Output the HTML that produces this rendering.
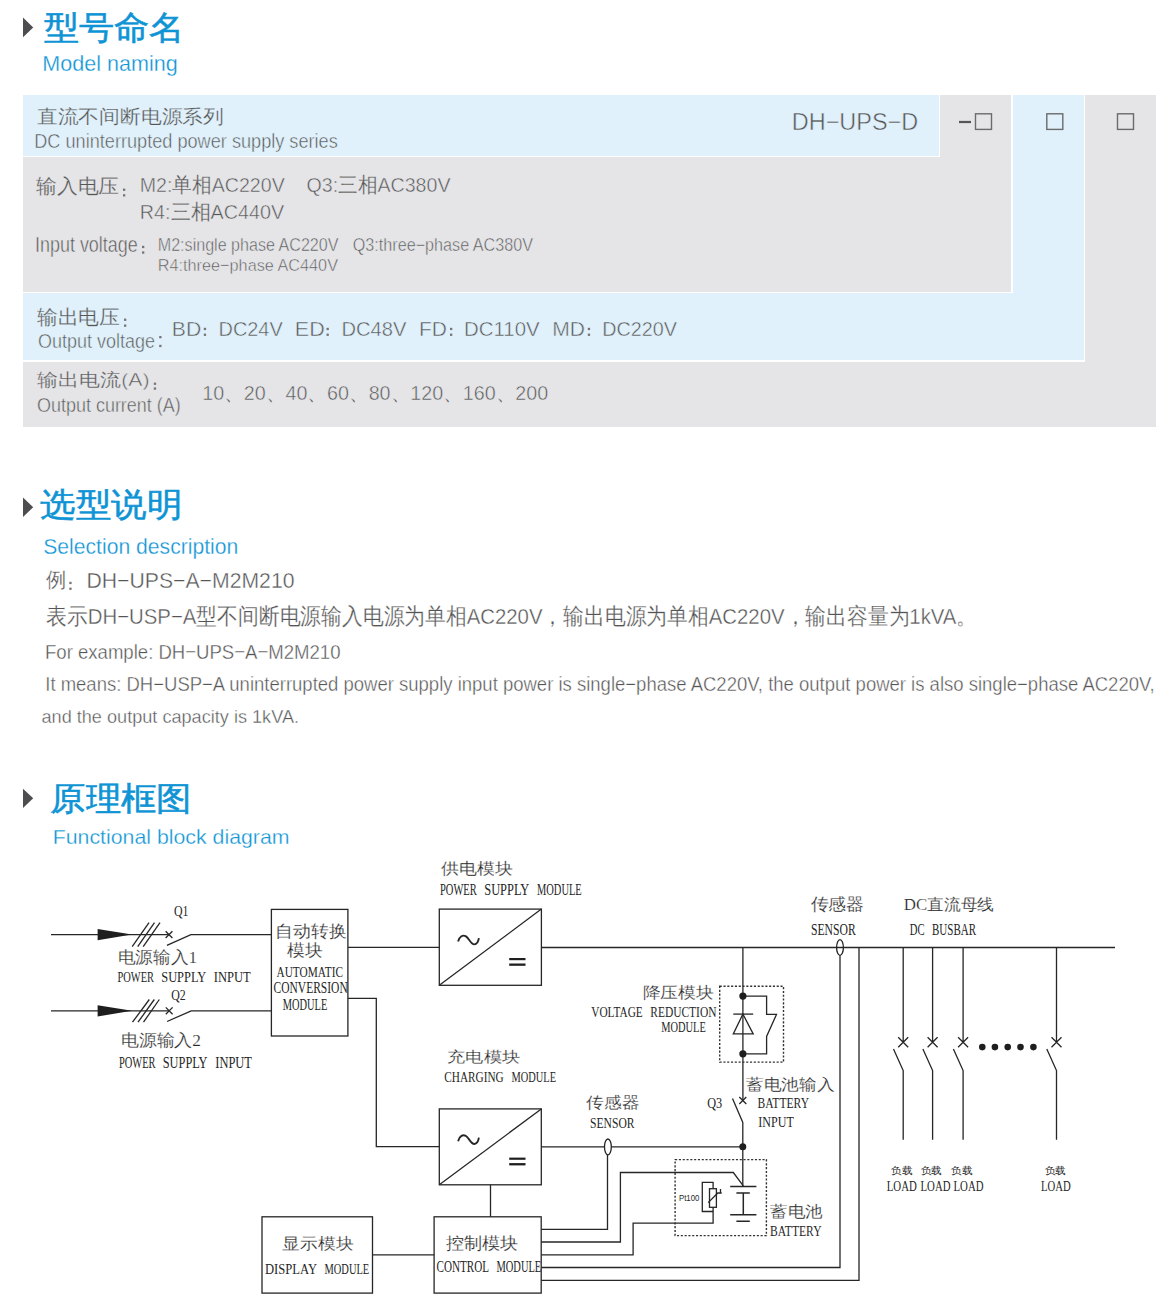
<!DOCTYPE html>
<html lang="zh"><head><meta charset="utf-8"><title>DH-UPS-D</title>
<style>
html,body{margin:0;padding:0;background:#fff;}
body{width:1167px;height:1308px;position:relative;overflow:hidden;font-family:"Liberation Sans",sans-serif;}
.cell{position:absolute;}
.b{background:#e0f1fb;}
.g{background:#e5e5e8;}
svg{position:absolute;left:0;top:0;}
</style></head><body>

<div class="section model-naming">
<div class="cell b" style="left:23px;top:95px;width:916px;height:61px"></div>
<div class="cell g" style="left:940px;top:95px;width:71px;height:197px"></div>
<div class="cell g" style="left:23px;top:157px;width:988px;height:135px"></div>
<div class="cell b" style="left:1013px;top:95px;width:71px;height:265px"></div>
<div class="cell b" style="left:23px;top:293px;width:1061px;height:67px"></div>
<div class="cell g" style="left:1085px;top:95px;width:71px;height:332px"></div>
<div class="cell g" style="left:23px;top:362px;width:1133px;height:65px"></div>
</div>
<svg width="1167" height="1308" viewBox="0 0 1167 1308">
<g fill="#4d4d4f">
<polygon points="23,17.5 33.2,27.4 23,37.2"/>
<polygon points="23,497.5 33.2,507.2 23,517.0"/>
<polygon points="23,788.7 33.2,798.3 23,807.9"/>
</g>
<g fill="none" stroke="#6b6b6b" stroke-width="1.4">
<rect x="975.5" y="113.8" width="16" height="15.6"/>
<rect x="1046.8" y="113.8" width="16" height="15.6"/>
<rect x="1117.5" y="113.8" width="16" height="15.6"/>
</g>
<rect x="959" y="120.9" width="12" height="2.2" fill="#555"/>
<g fill="#767676">
<rect x="123.0" y="188.6" width="2.3" height="2.3"/><rect x="123.0" y="194.2" width="2.3" height="2.3"/>
<rect x="124.0" y="318.6" width="2.3" height="2.3"/><rect x="124.0" y="324.5" width="2.3" height="2.3"/>
<rect x="153.8" y="382.6" width="2.3" height="2.3"/><rect x="153.8" y="387.4" width="2.3" height="2.3"/>
<rect x="203.8" y="327.8" width="2.3" height="2.3"/><rect x="203.8" y="333.6" width="2.3" height="2.3"/>
<rect x="326.5" y="327.8" width="2.3" height="2.3"/><rect x="326.5" y="333.6" width="2.3" height="2.3"/>
<rect x="450.0" y="327.8" width="2.3" height="2.3"/><rect x="450.0" y="333.6" width="2.3" height="2.3"/>
<rect x="587.8" y="327.8" width="2.3" height="2.3"/><rect x="587.8" y="333.6" width="2.3" height="2.3"/>
<rect x="142.0" y="245.8" width="2.3" height="2.3"/><rect x="142.0" y="251.4" width="2.3" height="2.3"/>
<rect x="159.2" y="336.0" width="2.3" height="2.3"/><rect x="159.2" y="344.8" width="2.3" height="2.3"/>
<rect x="69.3" y="581.8" width="2.3" height="2.3"/><rect x="69.3" y="587.6" width="2.3" height="2.3"/>
</g>
<text x="43.50" y="38.82" font-family="Liberation Sans" font-size="33.22" textLength="140.75" lengthAdjust="spacingAndGlyphs" fill="#0e94d5" stroke="#0e94d5" stroke-width="0.55">型号命名</text>
<text x="42.25" y="71.10" font-family="Liberation Sans" font-size="22.82" textLength="135.50" lengthAdjust="spacingAndGlyphs" fill="#0e94d5" stroke="#fff" stroke-width="0.3">Model naming</text>
<text x="36.75" y="123.38" font-family="Liberation Sans" font-size="19.39" textLength="187.25" lengthAdjust="spacingAndGlyphs" fill="#555" stroke="#e0f1fb" stroke-width="0.5"><tspan stroke-width="0.25">直流不间断电源系列</tspan></text>
<text x="34.25" y="148.40" font-family="Liberation Sans" font-size="20.49" textLength="303.50" lengthAdjust="spacingAndGlyphs" fill="#555" stroke="#e0f1fb" stroke-width="0.5">DC uninterrupted power supply series</text>
<text x="791.75" y="129.90" font-family="Liberation Sans" font-size="23.98" textLength="126.50" lengthAdjust="spacingAndGlyphs" fill="#555" stroke="#e0f1fb" stroke-width="0.5">DH−UPS−D</text>
<text x="35.75" y="192.81" font-family="Liberation Sans" font-size="19.65" textLength="83.50" lengthAdjust="spacingAndGlyphs" fill="#555" stroke="#e5e5e8" stroke-width="0.5"><tspan stroke-width="0.25">输入电压</tspan></text>
<text x="139.75" y="192.10" font-family="Liberation Sans" font-size="20.93" textLength="145.00" lengthAdjust="spacingAndGlyphs" fill="#555" stroke="#e5e5e8" stroke-width="0.5">M2:<tspan stroke-width="0.25">单相</tspan>AC220V</text>
<text x="306.50" y="192.10" font-family="Liberation Sans" font-size="20.93" textLength="144.00" lengthAdjust="spacingAndGlyphs" fill="#555" stroke="#e5e5e8" stroke-width="0.5">Q3:<tspan stroke-width="0.25">三相</tspan>AC380V</text>
<text x="139.75" y="219.00" font-family="Liberation Sans" font-size="20.78" textLength="144.50" lengthAdjust="spacingAndGlyphs" fill="#555" stroke="#e5e5e8" stroke-width="0.5">R4:<tspan stroke-width="0.25">三相</tspan>AC440V</text>
<text x="35.00" y="251.70" font-family="Liberation Sans" font-size="21.51" textLength="102.75" lengthAdjust="spacingAndGlyphs" fill="#555" stroke="#e5e5e8" stroke-width="0.5">Input voltage</text>
<text x="157.75" y="251.40" font-family="Liberation Sans" font-size="17.88" textLength="180.75" lengthAdjust="spacingAndGlyphs" fill="#555" stroke="#e5e5e8" stroke-width="0.5">M2:single phase AC220V</text>
<text x="352.75" y="251.40" font-family="Liberation Sans" font-size="17.88" textLength="180.25" lengthAdjust="spacingAndGlyphs" fill="#555" stroke="#e5e5e8" stroke-width="0.5">Q3:three−phase AC380V</text>
<text x="157.75" y="270.80" font-family="Liberation Sans" font-size="16.86" textLength="180.25" lengthAdjust="spacingAndGlyphs" fill="#555" stroke="#e5e5e8" stroke-width="0.5">R4:three−phase AC440V</text>
<text x="36.75" y="323.59" font-family="Liberation Sans" font-size="20.05" textLength="83.25" lengthAdjust="spacingAndGlyphs" fill="#555" stroke="#e0f1fb" stroke-width="0.5"><tspan stroke-width="0.25">输出电压</tspan></text>
<text x="38.00" y="347.90" font-family="Liberation Sans" font-size="20.35" textLength="117.00" lengthAdjust="spacingAndGlyphs" fill="#555" stroke="#e0f1fb" stroke-width="0.5">Output voltage</text>
<text x="171.75" y="336.10" font-family="Liberation Sans" font-size="20.78" textLength="29.50" lengthAdjust="spacingAndGlyphs" fill="#555" stroke="#e0f1fb" stroke-width="0.5">BD</text>
<text x="218.50" y="336.10" font-family="Liberation Sans" font-size="20.78" textLength="64.25" lengthAdjust="spacingAndGlyphs" fill="#555" stroke="#e0f1fb" stroke-width="0.5">DC24V</text>
<text x="294.75" y="336.10" font-family="Liberation Sans" font-size="20.78" textLength="30.00" lengthAdjust="spacingAndGlyphs" fill="#555" stroke="#e0f1fb" stroke-width="0.5">ED</text>
<text x="341.50" y="336.10" font-family="Liberation Sans" font-size="20.78" textLength="65.00" lengthAdjust="spacingAndGlyphs" fill="#555" stroke="#e0f1fb" stroke-width="0.5">DC48V</text>
<text x="419.00" y="336.10" font-family="Liberation Sans" font-size="20.78" textLength="28.00" lengthAdjust="spacingAndGlyphs" fill="#555" stroke="#e0f1fb" stroke-width="0.5">FD</text>
<text x="464.00" y="336.10" font-family="Liberation Sans" font-size="20.78" textLength="75.75" lengthAdjust="spacingAndGlyphs" fill="#555" stroke="#e0f1fb" stroke-width="0.5">DC110V</text>
<text x="552.25" y="336.10" font-family="Liberation Sans" font-size="20.78" textLength="32.75" lengthAdjust="spacingAndGlyphs" fill="#555" stroke="#e0f1fb" stroke-width="0.5">MD</text>
<text x="602.25" y="336.10" font-family="Liberation Sans" font-size="20.78" textLength="74.75" lengthAdjust="spacingAndGlyphs" fill="#555" stroke="#e0f1fb" stroke-width="0.5">DC220V</text>
<text x="37.25" y="385.82" font-family="Liberation Sans" font-size="18.24" textLength="112.25" lengthAdjust="spacingAndGlyphs" fill="#555" stroke="#e5e5e8" stroke-width="0.5"><tspan stroke-width="0.25">输出电流</tspan>(A)</text>
<text x="37.00" y="412.20" font-family="Liberation Sans" font-size="20.64" textLength="143.75" lengthAdjust="spacingAndGlyphs" fill="#555" stroke="#e5e5e8" stroke-width="0.5">Output current (A)</text>
<text x="202.25" y="400.00" font-family="Liberation Sans" font-size="20.06" textLength="346.00" lengthAdjust="spacingAndGlyphs" fill="#555" stroke="#e5e5e8" stroke-width="0.5">10<tspan stroke-width="0.25">、</tspan>20<tspan stroke-width="0.25">、</tspan>40<tspan stroke-width="0.25">、</tspan>60<tspan stroke-width="0.25">、</tspan>80<tspan stroke-width="0.25">、</tspan>120<tspan stroke-width="0.25">、</tspan>160<tspan stroke-width="0.25">、</tspan>200</text>
<text x="40.00" y="515.52" font-family="Liberation Sans" font-size="32.90" textLength="142.00" lengthAdjust="spacingAndGlyphs" fill="#0e94d5" stroke="#0e94d5" stroke-width="0.55">选型说明</text>
<text x="43.25" y="553.60" font-family="Liberation Sans" font-size="22.67" textLength="195.00" lengthAdjust="spacingAndGlyphs" fill="#0e94d5" stroke="#fff" stroke-width="0.3">Selection description</text>
<text x="46.00" y="586.79" font-family="Liberation Sans" font-size="21.35" textLength="20.25" lengthAdjust="spacingAndGlyphs" fill="#555" stroke="#fff" stroke-width="0.38"><tspan stroke-width="0.25">例</tspan></text>
<text x="86.50" y="587.80" font-family="Liberation Sans" font-size="22.53" textLength="208.00" lengthAdjust="spacingAndGlyphs" fill="#555" stroke="#fff" stroke-width="0.38">DH−UPS−A−M2M210</text>
<text x="46.25" y="624.30" font-family="Liberation Sans" font-size="22.53" textLength="931.00" lengthAdjust="spacingAndGlyphs" fill="#555" stroke="#fff" stroke-width="0.38"><tspan stroke-width="0.25">表示</tspan>DH−USP−A<tspan stroke-width="0.25">型不间断电源输入电源为单相</tspan>AC220V<tspan stroke-width="0.25">，输出电源为单相</tspan>AC220V<tspan stroke-width="0.25">，输出容量为</tspan>1kVA<tspan stroke-width="0.25">。</tspan></text>
<text x="45.00" y="658.80" font-family="Liberation Sans" font-size="21.08" textLength="295.50" lengthAdjust="spacingAndGlyphs" fill="#555" stroke="#fff" stroke-width="0.38">For example: DH−UPS−A−M2M210</text>
<text x="45.25" y="690.90" font-family="Liberation Sans" font-size="19.91" textLength="1109.50" lengthAdjust="spacingAndGlyphs" fill="#555" stroke="#fff" stroke-width="0.38">It means: DH−USP−A uninterrupted power supply input power is single−phase AC220V, the output power is also single−phase AC220V,</text>
<text x="41.50" y="723.20" font-family="Liberation Sans" font-size="19.19" textLength="257.50" lengthAdjust="spacingAndGlyphs" fill="#555" stroke="#fff" stroke-width="0.38">and the output capacity is 1kVA.</text>
<text x="50.25" y="810.06" font-family="Liberation Sans" font-size="33.00" textLength="141.50" lengthAdjust="spacingAndGlyphs" fill="#0e94d5" stroke="#0e94d5" stroke-width="0.55">原理框图</text>
<text x="52.75" y="843.90" font-family="Liberation Sans" font-size="20.93" textLength="236.75" lengthAdjust="spacingAndGlyphs" fill="#0e94d5" stroke="#fff" stroke-width="0.3">Functional block diagram</text>
<text x="174.00" y="915.70" font-family="Liberation Serif" font-size="15.54" textLength="14.50" lengthAdjust="spacingAndGlyphs" fill="#262626">Q1</text>
<text x="117.75" y="963.49" font-family="Liberation Serif" font-size="16.54" textLength="79.25" lengthAdjust="spacingAndGlyphs" fill="#262626" stroke="#fff" stroke-width="0.2">电源输入1</text>
<text x="117.50" y="982.40" font-family="Liberation Serif" font-size="15.38" textLength="36.50" lengthAdjust="spacingAndGlyphs" fill="#262626">POWER</text>
<text x="161.25" y="982.40" font-family="Liberation Serif" font-size="15.38" textLength="45.00" lengthAdjust="spacingAndGlyphs" fill="#262626">SUPPLY</text>
<text x="213.75" y="982.40" font-family="Liberation Serif" font-size="15.38" textLength="37.00" lengthAdjust="spacingAndGlyphs" fill="#262626">INPUT</text>
<text x="171.25" y="1000.40" font-family="Liberation Serif" font-size="14.77" textLength="14.50" lengthAdjust="spacingAndGlyphs" fill="#262626">Q2</text>
<text x="120.75" y="1046.49" font-family="Liberation Serif" font-size="16.54" textLength="80.25" lengthAdjust="spacingAndGlyphs" fill="#262626" stroke="#fff" stroke-width="0.2">电源输入2</text>
<text x="119.00" y="1068.40" font-family="Liberation Serif" font-size="15.85" textLength="36.50" lengthAdjust="spacingAndGlyphs" fill="#262626">POWER</text>
<text x="162.75" y="1068.40" font-family="Liberation Serif" font-size="15.85" textLength="44.75" lengthAdjust="spacingAndGlyphs" fill="#262626">SUPPLY</text>
<text x="215.25" y="1068.40" font-family="Liberation Serif" font-size="15.85" textLength="36.75" lengthAdjust="spacingAndGlyphs" fill="#262626">INPUT</text>
<text x="275.00" y="937.17" font-family="Liberation Serif" font-size="17.37" textLength="71.50" lengthAdjust="spacingAndGlyphs" fill="#262626" stroke="#fff" stroke-width="0.2">自动转换</text>
<text x="287.25" y="956.30" font-family="Liberation Serif" font-size="16.53" textLength="35.50" lengthAdjust="spacingAndGlyphs" fill="#262626" stroke="#fff" stroke-width="0.2">模块</text>
<text x="276.50" y="976.50" font-family="Liberation Serif" font-size="15.38" textLength="66.50" lengthAdjust="spacingAndGlyphs" fill="#262626">AUTOMATIC</text>
<text x="273.50" y="992.70" font-family="Liberation Serif" font-size="15.85" textLength="74.25" lengthAdjust="spacingAndGlyphs" fill="#262626">CONVERSION</text>
<text x="282.75" y="1009.60" font-family="Liberation Serif" font-size="15.69" textLength="44.50" lengthAdjust="spacingAndGlyphs" fill="#262626">MODULE</text>
<text x="440.75" y="873.84" font-family="Liberation Serif" font-size="16.11" textLength="71.75" lengthAdjust="spacingAndGlyphs" fill="#262626" stroke="#fff" stroke-width="0.2">供电模块</text>
<text x="440.00" y="894.70" font-family="Liberation Serif" font-size="16.15" textLength="36.75" lengthAdjust="spacingAndGlyphs" fill="#262626">POWER</text>
<text x="484.25" y="894.70" font-family="Liberation Serif" font-size="16.15" textLength="45.00" lengthAdjust="spacingAndGlyphs" fill="#262626">SUPPLY</text>
<text x="537.00" y="894.70" font-family="Liberation Serif" font-size="16.15" textLength="44.75" lengthAdjust="spacingAndGlyphs" fill="#262626">MODULE</text>
<text x="810.50" y="909.73" font-family="Liberation Serif" font-size="16.58" textLength="53.75" lengthAdjust="spacingAndGlyphs" fill="#262626" stroke="#fff" stroke-width="0.2">传感器</text>
<text x="811.00" y="934.80" font-family="Liberation Serif" font-size="17.08" textLength="44.75" lengthAdjust="spacingAndGlyphs" fill="#262626">SENSOR</text>
<text x="903.75" y="909.54" font-family="Liberation Serif" font-size="16.06" textLength="90.50" lengthAdjust="spacingAndGlyphs" fill="#262626" stroke="#fff" stroke-width="0.2">DC直流母线</text>
<text x="909.75" y="934.80" font-family="Liberation Serif" font-size="17.08" textLength="14.75" lengthAdjust="spacingAndGlyphs" fill="#262626">DC</text>
<text x="932.00" y="934.80" font-family="Liberation Serif" font-size="17.08" textLength="44.00" lengthAdjust="spacingAndGlyphs" fill="#262626">BUSBAR</text>
<text x="642.50" y="997.52" font-family="Liberation Serif" font-size="16.42" textLength="71.25" lengthAdjust="spacingAndGlyphs" fill="#262626" stroke="#fff" stroke-width="0.2">降压模块</text>
<text x="591.25" y="1016.90" font-family="Liberation Serif" font-size="14.77" textLength="51.50" lengthAdjust="spacingAndGlyphs" fill="#262626">VOLTAGE</text>
<text x="650.25" y="1016.90" font-family="Liberation Serif" font-size="14.77" textLength="66.25" lengthAdjust="spacingAndGlyphs" fill="#262626">REDUCTION</text>
<text x="661.25" y="1031.70" font-family="Liberation Serif" font-size="14.92" textLength="44.50" lengthAdjust="spacingAndGlyphs" fill="#262626">MODULE</text>
<text x="746.00" y="1089.77" font-family="Liberation Serif" font-size="16.17" textLength="88.25" lengthAdjust="spacingAndGlyphs" fill="#262626" stroke="#fff" stroke-width="0.2">蓄电池输入</text>
<text x="757.50" y="1108.00" font-family="Liberation Serif" font-size="14.77" textLength="51.50" lengthAdjust="spacingAndGlyphs" fill="#262626">BATTERY</text>
<text x="758.25" y="1126.90" font-family="Liberation Serif" font-size="14.77" textLength="35.50" lengthAdjust="spacingAndGlyphs" fill="#262626">INPUT</text>
<text x="707.25" y="1108.00" font-family="Liberation Serif" font-size="13.69" textLength="15.00" lengthAdjust="spacingAndGlyphs" fill="#262626">Q3</text>
<text x="447.25" y="1062.22" font-family="Liberation Serif" font-size="14.53" textLength="72.75" lengthAdjust="spacingAndGlyphs" fill="#262626" stroke="#fff" stroke-width="0.2">充电模块</text>
<text x="444.25" y="1082.00" font-family="Liberation Serif" font-size="15.08" textLength="59.50" lengthAdjust="spacingAndGlyphs" fill="#262626">CHARGING</text>
<text x="511.50" y="1082.00" font-family="Liberation Serif" font-size="15.08" textLength="44.50" lengthAdjust="spacingAndGlyphs" fill="#262626">MODULE</text>
<text x="586.25" y="1107.54" font-family="Liberation Serif" font-size="16.32" textLength="53.00" lengthAdjust="spacingAndGlyphs" fill="#262626" stroke="#fff" stroke-width="0.2">传感器</text>
<text x="590.00" y="1128.30" font-family="Liberation Serif" font-size="15.23" textLength="44.50" lengthAdjust="spacingAndGlyphs" fill="#262626">SENSOR</text>
<text x="679.00" y="1201.20" font-family="Liberation Sans" font-size="8.43" textLength="20.25" lengthAdjust="spacingAndGlyphs" fill="#262626">Pt100</text>
<text x="770.00" y="1216.91" font-family="Liberation Serif" font-size="15.59" textLength="52.50" lengthAdjust="spacingAndGlyphs" fill="#262626" stroke="#fff" stroke-width="0.2">蓄电池</text>
<text x="770.00" y="1235.60" font-family="Liberation Serif" font-size="15.38" textLength="51.50" lengthAdjust="spacingAndGlyphs" fill="#262626">BATTERY</text>
<text x="446.25" y="1248.94" font-family="Liberation Serif" font-size="17.00" textLength="72.25" lengthAdjust="spacingAndGlyphs" fill="#262626" stroke="#fff" stroke-width="0.2">控制模块</text>
<text x="436.50" y="1272.40" font-family="Liberation Serif" font-size="16.92" textLength="52.50" lengthAdjust="spacingAndGlyphs" fill="#262626">CONTROL</text>
<text x="496.50" y="1272.40" font-family="Liberation Serif" font-size="16.92" textLength="44.75" lengthAdjust="spacingAndGlyphs" fill="#262626">MODULE</text>
<text x="282.25" y="1249.09" font-family="Liberation Serif" font-size="16.11" textLength="71.25" lengthAdjust="spacingAndGlyphs" fill="#262626" stroke="#fff" stroke-width="0.2">显示模块</text>
<text x="265.00" y="1274.00" font-family="Liberation Serif" font-size="14.92" textLength="52.00" lengthAdjust="spacingAndGlyphs" fill="#262626">DISPLAY</text>
<text x="324.50" y="1274.00" font-family="Liberation Serif" font-size="14.92" textLength="44.75" lengthAdjust="spacingAndGlyphs" fill="#262626">MODULE</text>
<text x="891.25" y="1173.55" font-family="Liberation Serif" font-size="10.00" textLength="21.25" lengthAdjust="spacingAndGlyphs" fill="#262626">负载</text>
<text x="920.50" y="1173.55" font-family="Liberation Serif" font-size="10.00" textLength="21.25" lengthAdjust="spacingAndGlyphs" fill="#262626">负载</text>
<text x="951.00" y="1173.55" font-family="Liberation Serif" font-size="10.00" textLength="21.25" lengthAdjust="spacingAndGlyphs" fill="#262626">负载</text>
<text x="1044.50" y="1173.55" font-family="Liberation Serif" font-size="10.00" textLength="21.25" lengthAdjust="spacingAndGlyphs" fill="#262626">负载</text>
<text x="886.75" y="1191.30" font-family="Liberation Serif" font-size="15.38" textLength="30.00" lengthAdjust="spacingAndGlyphs" fill="#262626">LOAD</text>
<text x="920.50" y="1191.30" font-family="Liberation Serif" font-size="15.38" textLength="30.00" lengthAdjust="spacingAndGlyphs" fill="#262626">LOAD</text>
<text x="953.50" y="1191.30" font-family="Liberation Serif" font-size="15.38" textLength="30.00" lengthAdjust="spacingAndGlyphs" fill="#262626">LOAD</text>
<text x="1041.00" y="1191.30" font-family="Liberation Serif" font-size="15.38" textLength="29.75" lengthAdjust="spacingAndGlyphs" fill="#262626">LOAD</text>
<g fill="none" stroke="#262626" stroke-width="1.3" stroke-linecap="butt">
<!-- input 1 -->
<line x1="51" y1="934.6" x2="169" y2="934.6"/>
<line x1="132.2" y1="946.6" x2="149" y2="922.6"/>
<line x1="137.7" y1="946.6" x2="154.5" y2="922.6"/>
<line x1="143.2" y1="946.6" x2="160" y2="922.6"/>
<path d="M165.6,931.2 L172.4,938 M165.6,938 L172.4,931.2"/>
<path d="M166.9,945.3 L190.9,934.6 H271.4"/>
<!-- input 2 -->
<line x1="51" y1="1010.8" x2="169" y2="1010.8"/>
<line x1="132.5" y1="1022.2" x2="149.3" y2="999.5"/>
<line x1="138" y1="1022.2" x2="154.3" y2="999.5"/>
<line x1="143.5" y1="1022.2" x2="159.3" y2="999.5"/>
<path d="M165.8,1007.4 L172.6,1014.2 M165.8,1014.2 L172.6,1007.4"/>
<path d="M167.1,1021.5 L191.2,1010.8 H271.4"/>
<!-- auto conversion box -->
<rect x="271.4" y="909.4" width="76.5" height="126.6"/>
<line x1="347.9" y1="947.4" x2="439.3" y2="947.4"/>
<path d="M347.9,998.3 H376.3 V1146.7 H439.3"/>
<!-- power supply module -->
<rect x="439.3" y="909.1" width="102.1" height="76.2"/>
<line x1="439.3" y1="985.3" x2="541.4" y2="909.1"/>
<path d="M458.1,941.6 C459.5,936 463,934.6 466,936.4 C469,938.4 471.2,944.6 474.3,944.4 C476.8,944.2 478.4,941.2 478.9,938.1" stroke-width="1.9"/>
<!-- busbar -->
<line x1="541.4" y1="947.5" x2="1115" y2="947.5"/>
<!-- battery vertical -->
<line x1="742.9" y1="947.5" x2="742.9" y2="1100.5"/>
<path d="M732.5,1098.4 L742.8,1122.4 V1186.6"/>
<path d="M739.3,1097 L746.3,1104 M739.3,1104 L746.3,1097"/>
<!-- voltage reduction -->
<line x1="733.3" y1="1014.1" x2="753.2" y2="1014.1"/>
<polygon points="742.9,1014.1 733.3,1033.9 753.2,1033.9"/>
<path d="M742.9,996.2 H766.6 V1014.4 H776.5 L766.6,1036.4 V1053.8 H742.9"/>
<!-- sensor 1 & outer wires -->
<ellipse cx="840" cy="947.5" rx="3.4" ry="7.9"/>
<path d="M840,955.4 V1267.5 H541.2"/>
<path d="M859,947.6 V1280.3 H541.2"/>
<!-- loads -->
<path d="M903.2,947.6 V1042.3 M893.5,1049.1 L903.2,1070.6 V1139.8 M898.2,1037.3 L908.2,1047.3 M898.2,1047.3 L908.2,1037.3"/>
<path d="M932.6,947.6 V1042.3 M922.9,1049.1 L932.6,1070.6 V1139.8 M927.6,1037.3 L937.6,1047.3 M927.6,1047.3 L937.6,1037.3"/>
<path d="M963.1,947.6 V1042.3 M953.4,1049.1 L963.1,1070.6 V1139.8 M958.1,1037.3 L968.1,1047.3 M958.1,1047.3 L968.1,1037.3"/>
<path d="M1056.5,947.6 V1042.3 M1046.8,1049.1 L1056.5,1070.6 V1139.8 M1051.5,1037.3 L1061.5,1047.3 M1051.5,1047.3 L1061.5,1037.3"/>
<!-- charging module -->
<rect x="439.3" y="1108.9" width="102" height="75.9"/>
<line x1="439.3" y1="1184.8" x2="541.3" y2="1108.9"/>
<path d="M458.1,1141.2 C459.5,1135.6 463,1134.2 466,1136 C469,1138 471.2,1144.2 474.3,1144 C476.8,1143.8 478.4,1140.8 478.9,1137.7" stroke-width="1.9"/>
<line x1="541.3" y1="1146.8" x2="742.8" y2="1146.8"/>
<ellipse cx="607.9" cy="1146.9" rx="3.4" ry="7.9" fill="#fff"/>
<line x1="490.5" y1="1184.8" x2="490.5" y2="1216.8"/>
<!-- control & display -->
<rect x="434.1" y="1216.8" width="107.1" height="76.3"/>
<rect x="262" y="1216.8" width="110.5" height="76.3"/>
<line x1="372.5" y1="1254.8" x2="434.1" y2="1254.8"/>
<path d="M541.2,1229.4 H607.5 V1154.8"/>
<path d="M541.2,1242 H620.4 V1172.5 H733.3 L743.3,1185.8"/>
<path d="M541.2,1254.9 H633.1 V1223.2 H713.1 V1207.3"/>
<!-- pt100 -->
<path d="M713.1,1188.7 V1182.3 H702.3 V1211.5 H713.1"/>
<rect x="709.5" y="1188.7" width="6.9" height="18.6"/>
<path d="M708.2,1202.6 L717.8,1193 H721.7 M720.5,1193 V1189"/>
<!-- battery -->
<path d="M730.2,1186.6 H756.4 M736.4,1192.9 H749.8 M743.3,1192.9 V1214.8 M730.2,1214.8 H756.4 M736.4,1221.3 H749.8" stroke-width="1.5"/>
</g>
<g fill="none" stroke="#333" stroke-width="1.4" stroke-dasharray="2.1,1.7">
<rect x="719.7" y="986.3" width="63.8" height="75.8"/>
<rect x="675.1" y="1159.6" width="91.3" height="76"/>
</g>
<g fill="#1e1e1e">
<polygon points="97.6,929.0 132,934.6 97.6,940.3"/>
<polygon points="97.6,1005.2 132,1010.8 97.6,1016.5"/>
<rect x="509.2" y="958.0" width="16.3" height="2.2"/>
<rect x="509.2" y="963.5" width="16.3" height="2.3"/>
<rect x="509.2" y="1157.6" width="16.3" height="2.2"/>
<rect x="509.2" y="1163.1" width="16.3" height="2.3"/>
<circle cx="742.9" cy="996.1" r="3.6"/>
<circle cx="742.9" cy="1053.8" r="3.6"/>
<circle cx="742.8" cy="1146.7" r="3.5"/>
<circle cx="982.3" cy="1047.1" r="3.3"/>
<circle cx="994.9" cy="1047.1" r="3.3"/>
<circle cx="1007.7" cy="1047.1" r="3.3"/>
<circle cx="1020.5" cy="1047.1" r="3.3"/>
<circle cx="1033.4" cy="1047.1" r="3.3"/>
</g>

</svg>
</body></html>
